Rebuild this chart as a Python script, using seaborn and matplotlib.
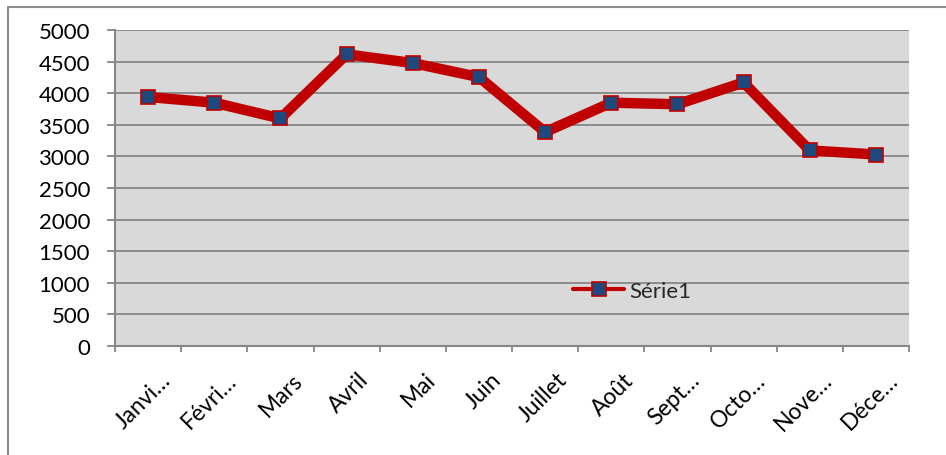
import matplotlib
matplotlib.use("Agg")
import matplotlib.pyplot as plt
import matplotlib.transforms as mtransforms
from matplotlib.lines import Line2D
import seaborn as sns
import pandas as pd

months = ["Janvi…", "Févri…", "Mars", "Avril", "Mai", "Juin", "Juillet",
          "Août", "Sept…", "Octo…", "Nove…", "Déce…"]
values = [3940, 3850, 3600, 4615, 4477, 4255, 3385, 3850, 3825, 4170, 3095, 3030]
series_name = "Série1"
yticks = [0, 500, 1000, 1500, 2000, 2500, 3000, 3500, 4000, 4500, 5000]

sns.set_theme(style="white")
plt.rcParams["font.family"] = ["Lato", "DejaVu Sans"]

df = pd.DataFrame({"Mois": months, "Valeur": values, "Série": series_name})

fig = plt.figure(figsize=(9.46, 4.56), dpi=100)
ax = fig.add_axes([115/946, 1-347/456, (909-115)/946, (347-31)/456])

LINE_RED = "#C00000"
MARK_BLUE = "#1F497D"
GRID = "#868686"

sns.lineplot(data=df, x="Mois", y="Valeur", hue="Série", palette=[LINE_RED],
             sort=False, linewidth=7.5, marker="s", markersize=10,
             markerfacecolor=MARK_BLUE, markeredgecolor=LINE_RED,
             markeredgewidth=1.2, ax=ax, legend=False, zorder=3)

ax.set_facecolor("#D9D9D9")
ax.set_xlim(-0.5, len(months) - 0.5)
ax.set_ylim(0, 5000)
ax.set_yticks(yticks)
ax.set_yticklabels([str(v) for v in yticks])
ax.yaxis.grid(True, color=GRID, linewidth=1.3)
ax.xaxis.grid(False)
ax.set_axisbelow(True)
ax.set_xlabel("")
ax.set_ylabel("")

for s in ["top", "right"]:
    ax.spines[s].set_visible(False)
ax.spines["left"].set_color(GRID)
ax.spines["left"].set_linewidth(1.5)
ax.spines["bottom"].set_color(GRID)
ax.spines["bottom"].set_linewidth(1.5)

ax.tick_params(axis="y", left=True, length=6, width=1.3, color=GRID,
               pad=12, labelsize=16, labelcolor="black")
ax.set_xticks(range(len(months)))
ax.set_xticklabels(months)
ax.set_xticks([i - 0.5 for i in range(len(months) + 1)], minor=True)
ax.tick_params(axis="x", which="major", bottom=False, length=0, pad=0,
               labelsize=16.5, labelcolor="black")
ax.tick_params(axis="x", which="minor", bottom=True, length=4.5, width=1.3,
               color=GRID)

offset = mtransforms.ScaledTranslation(19/100, -30/100, fig.dpi_scale_trans)
for lab in ax.get_xticklabels():
    lab.set_rotation(45)
    lab.set_ha("right")
    lab.set_va("center")
    lab.set_rotation_mode("anchor")
    lab.set_transform(lab.get_transform() + offset)

handle = Line2D([], [], color=LINE_RED, linewidth=3, marker="s", markersize=10,
                markerfacecolor=MARK_BLUE, markeredgecolor=LINE_RED,
                markeredgewidth=1.2)
ax.legend([handle], [series_name], loc="center left",
          bbox_to_anchor=((573-115)/794, (347-292)/316), frameon=False,
          fontsize=16, handlelength=2.3, handletextpad=0.25, borderpad=0,
          borderaxespad=0)

# chart area border (left and top visible)
fig.add_artist(Line2D([8/946, 8/946], [0, 1-8/456], transform=fig.transFigure,
                      color="#8C8C8C", linewidth=1.5))
fig.add_artist(Line2D([8/946, 1], [1-8/456, 1-8/456], transform=fig.transFigure,
                      color="#8C8C8C", linewidth=1.5))

fig.savefig("out.png", dpi=100, facecolor="white")
